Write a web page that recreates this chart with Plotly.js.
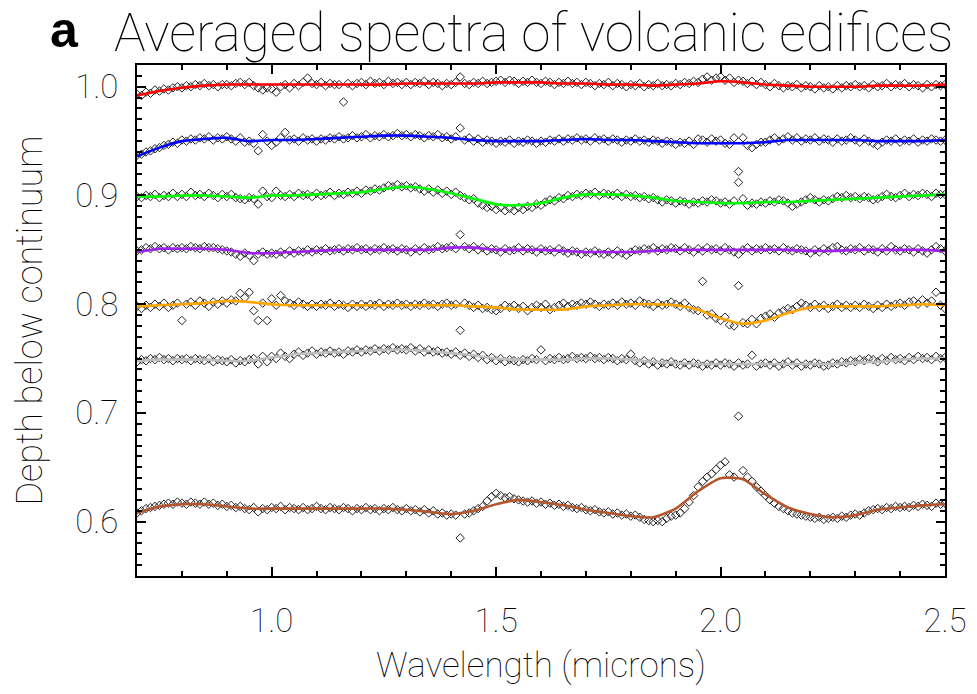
<!DOCTYPE html>
<html><head><meta charset="utf-8">
<script src="https://cdn.plot.ly/plotly-3.0.1.min.js"></script>
<style>html,body{margin:0;padding:0;background:#fff;}#chart{width:977px;height:694px;}</style>
</head><body><div id="chart"></div>
<script>
// Wavelength grid of the averaged spectra (microns)
const wavelength = [
0.70,0.71,0.72,0.73,0.74,0.75,0.76,0.77,0.78,0.79,
0.80,0.81,0.82,0.83,0.84,0.85,0.86,0.87,0.88,0.89,
0.90,0.91,0.92,0.93,0.94,0.95,0.96,0.97,0.98,0.99,
1.00,1.01,1.02,1.03,1.04,1.05,1.06,1.07,1.08,1.09,
1.10,1.11,1.12,1.13,1.14,1.15,1.16,1.17,1.18,1.19,
1.20,1.21,1.22,1.23,1.24,1.25,1.26,1.27,1.28,1.29,
1.30,1.31,1.32,1.33,1.34,1.35,1.36,1.37,1.38,1.39,
1.40,1.41,1.42,1.43,1.44,1.45,1.46,1.47,1.48,1.49,
1.50,1.51,1.52,1.53,1.54,1.55,1.56,1.57,1.58,1.59,
1.60,1.61,1.62,1.63,1.64,1.65,1.66,1.67,1.68,1.69,
1.70,1.71,1.72,1.73,1.74,1.75,1.76,1.77,1.78,1.79,
1.80,1.81,1.82,1.83,1.84,1.85,1.86,1.87,1.88,1.89,
1.90,1.91,1.92,1.93,1.94,1.95,1.96,1.97,1.98,1.99,
2.00,2.01,2.02,2.03,2.04,2.05,2.06,2.07,2.08,2.09,
2.10,2.11,2.12,2.13,2.14,2.15,2.16,2.17,2.18,2.19,
2.20,2.21,2.22,2.23,2.24,2.25,2.26,2.27,2.28,2.29,
2.30,2.31,2.32,2.33,2.34,2.35,2.36,2.37,2.38,2.39,
2.40,2.41,2.42,2.43,2.44,2.45,2.46,2.47,2.48,2.49,
2.50];

// Wavelengths of the smoothed fits
const fitWavelength = [0.70,0.75,0.80,0.85,0.90,0.95,1.00,1.05,1.10,1.15,1.20,1.25,1.30,1.35,1.40,1.45,1.50,1.55,1.60,1.65,1.70,1.75,1.80,1.85,1.90,1.95,2.00,2.05,2.10,2.15,2.20,2.25,2.30,2.35,2.40,2.45,2.50];

const redPoints = [
0.993,0.992,0.995,0.994,0.997,0.996,0.998,0.997,0.999,1.000,
0.999,1.001,1.000,1.002,1.001,1.003,1.001,1.002,1.000,1.002,
1.002,1.001,1.003,1.004,1.002,1.004,1.001,0.999,0.997,0.999,
0.998,0.995,1.000,1.002,0.999,1.003,1.001,1.004,1.008,1.003,
1.002,1.004,1.001,1.003,1.002,1.002,0.986,1.003,1.001,1.003,
1.004,1.002,1.005,1.003,1.004,1.002,1.005,1.003,1.004,1.002,
1.004,1.002,1.004,1.003,1.005,1.002,1.004,1.003,1.001,1.003,
1.002,1.004,1.009,1.003,1.002,1.004,1.003,1.005,1.003,1.004,
1.005,1.006,1.004,1.006,1.005,1.003,1.005,1.004,1.006,1.004,
1.003,1.005,1.004,1.002,1.004,1.003,1.005,1.003,1.004,1.002,
1.004,1.003,1.001,1.003,1.002,1.004,1.001,1.003,1.002,1.000,
1.002,1.001,1.003,1.000,1.002,1.001,1.003,1.001,1.002,1.001,
1.003,1.002,1.004,1.003,1.005,1.004,1.007,1.009,1.006,1.008,
1.009,1.006,1.008,1.004,1.006,1.005,1.003,1.005,1.002,1.004,
1.002,1.000,1.003,1.001,0.999,1.001,1.000,1.002,0.999,1.001,
1.000,0.998,1.001,0.999,1.000,0.998,1.001,0.999,1.001,1.000,
1.002,1.000,1.001,0.999,1.002,1.000,1.001,1.003,1.000,1.002,
1.001,1.003,1.000,1.002,1.001,0.999,1.002,1.000,1.002,1.001,
1.002];
const redFit = [0.992,0.996,0.999,1.001,1.002,1.002,1.002,1.002,1.002,1.002,1.002,1.002,1.003,1.003,1.003,1.003,1.004,1.004,1.004,1.003,1.003,1.002,1.002,1.001,1.002,1.003,1.005,1.004,1.002,1.001,1.000,1.000,1.000,1.001,1.001,1.001,1.002];

const bluePoints = [
0.937,0.938,0.940,0.941,0.943,0.944,0.946,0.947,0.949,0.948,
0.951,0.950,0.952,0.951,0.953,0.952,0.954,0.951,0.953,0.952,
0.954,0.952,0.950,0.953,0.949,0.950,0.948,0.941,0.956,0.950,
0.946,0.949,0.953,0.958,0.951,0.952,0.950,0.953,0.951,0.952,
0.950,0.952,0.951,0.953,0.952,0.954,0.952,0.953,0.955,0.953,
0.954,0.956,0.953,0.955,0.954,0.956,0.954,0.955,0.957,0.955,
0.956,0.954,0.956,0.955,0.953,0.955,0.954,0.956,0.953,0.954,
0.952,0.954,0.962,0.951,0.953,0.950,0.952,0.949,0.951,0.950,
0.948,0.950,0.949,0.951,0.948,0.950,0.949,0.951,0.950,0.948,
0.950,0.949,0.951,0.950,0.952,0.950,0.952,0.951,0.953,0.951,
0.952,0.950,0.953,0.951,0.952,0.950,0.952,0.951,0.949,0.951,
0.950,0.952,0.950,0.951,0.949,0.951,0.950,0.948,0.950,0.949,
0.947,0.949,0.948,0.950,0.947,0.952,0.951,0.949,0.952,0.950,
0.951,0.948,0.947,0.953,0.922,0.953,0.946,0.944,0.947,0.949,
0.949,0.951,0.953,0.950,0.952,0.954,0.951,0.953,0.950,0.952,
0.951,0.953,0.950,0.952,0.951,0.949,0.952,0.950,0.951,0.953,
0.951,0.949,0.952,0.950,0.948,0.946,0.949,0.951,0.950,0.952,
0.949,0.951,0.950,0.952,0.949,0.951,0.950,0.952,0.951,0.950,
0.951];
const blueFit = [0.936,0.944,0.950,0.952,0.953,0.950,0.951,0.951,0.952,0.953,0.954,0.955,0.955,0.954,0.953,0.951,0.950,0.950,0.950,0.951,0.952,0.951,0.951,0.950,0.949,0.948,0.948,0.948,0.949,0.951,0.951,0.951,0.951,0.950,0.950,0.950,0.951];

const greenPoints = [
0.899,0.898,0.900,0.899,0.901,0.898,0.900,0.899,0.902,0.899,
0.901,0.899,0.903,0.900,0.901,0.899,0.902,0.900,0.898,0.901,
0.899,0.901,0.898,0.897,0.896,0.898,0.897,0.892,0.904,0.899,
0.898,0.904,0.900,0.899,0.901,0.899,0.902,0.900,0.901,0.899,
0.902,0.900,0.901,0.903,0.900,0.902,0.901,0.903,0.902,0.904,
0.902,0.905,0.904,0.906,0.905,0.907,0.909,0.908,0.910,0.908,
0.909,0.907,0.908,0.906,0.904,0.906,0.903,0.905,0.902,0.904,
0.901,0.903,0.900,0.898,0.896,0.897,0.893,0.891,0.889,0.890,
0.887,0.889,0.886,0.888,0.886,0.889,0.887,0.890,0.889,0.892,
0.891,0.894,0.896,0.895,0.898,0.897,0.900,0.899,0.901,0.900,
0.902,0.901,0.903,0.900,0.902,0.901,0.900,0.902,0.899,0.901,
0.899,0.900,0.898,0.899,0.897,0.898,0.896,0.894,0.896,0.895,
0.893,0.895,0.894,0.892,0.894,0.893,0.895,0.894,0.896,0.895,
0.893,0.894,0.892,0.895,0.912,0.897,0.891,0.893,0.892,0.894,
0.893,0.895,0.894,0.896,0.895,0.893,0.890,0.892,0.894,0.896,
0.898,0.896,0.894,0.896,0.895,0.897,0.899,0.898,0.900,0.898,
0.899,0.897,0.899,0.898,0.896,0.897,0.899,0.901,0.899,0.898,
0.900,0.902,0.899,0.901,0.900,0.902,0.901,0.899,0.902,0.901,
0.901];
const greenFit = [0.899,0.899,0.900,0.900,0.899,0.898,0.900,0.900,0.901,0.902,0.903,0.906,0.908,0.906,0.902,0.897,0.892,0.891,0.893,0.898,0.901,0.901,0.900,0.898,0.895,0.894,0.893,0.893,0.894,0.894,0.895,0.896,0.897,0.898,0.899,0.900,0.901];

const purplePoints = [
0.849,0.850,0.852,0.851,0.853,0.851,0.852,0.850,0.852,0.851,
0.852,0.851,0.853,0.852,0.851,0.853,0.852,0.852,0.851,0.850,
0.849,0.848,0.846,0.844,0.847,0.845,0.840,0.846,0.848,0.846,
0.847,0.846,0.848,0.846,0.849,0.847,0.849,0.848,0.850,0.848,
0.850,0.849,0.851,0.849,0.850,0.851,0.849,0.851,0.850,0.852,
0.850,0.851,0.849,0.851,0.850,0.852,0.850,0.851,0.849,0.851,
0.850,0.848,0.851,0.849,0.852,0.850,0.851,0.853,0.851,0.852,
0.853,0.851,0.864,0.853,0.851,0.853,0.850,0.852,0.849,0.851,
0.850,0.848,0.851,0.849,0.850,0.852,0.849,0.851,0.850,0.848,
0.851,0.849,0.850,0.848,0.851,0.849,0.847,0.849,0.848,0.846,
0.848,0.847,0.849,0.847,0.846,0.848,0.846,0.849,0.847,0.845,
0.848,0.850,0.849,0.851,0.850,0.852,0.849,0.851,0.850,0.852,
0.851,0.849,0.852,0.850,0.848,0.851,0.849,0.852,0.850,0.851,
0.849,0.852,0.850,0.848,0.846,0.850,0.852,0.849,0.851,0.850,
0.852,0.850,0.851,0.849,0.852,0.850,0.849,0.851,0.850,0.849,
0.847,0.850,0.848,0.851,0.849,0.852,0.853,0.850,0.849,0.851,
0.850,0.852,0.849,0.851,0.850,0.848,0.851,0.849,0.853,0.850,
0.849,0.851,0.850,0.848,0.851,0.849,0.847,0.850,0.853,0.851,
0.849];
const purpleFit = [0.848,0.851,0.851,0.851,0.850,0.847,0.847,0.848,0.849,0.850,0.850,0.850,0.850,0.850,0.852,0.852,0.850,0.850,0.850,0.849,0.848,0.848,0.848,0.849,0.850,0.850,0.850,0.850,0.850,0.850,0.849,0.849,0.850,0.850,0.850,0.850,0.849];

const orangePoints = [
0.798,0.796,0.799,0.797,0.800,0.798,0.801,0.797,0.799,0.801,
0.785,0.800,0.802,0.799,0.803,0.801,0.798,0.802,0.800,0.803,
0.801,0.804,0.803,0.810,0.806,0.811,0.794,0.785,0.801,0.785,
0.805,0.799,0.808,0.803,0.801,0.799,0.802,0.800,0.798,0.800,
0.798,0.800,0.799,0.801,0.798,0.800,0.799,0.797,0.800,0.798,
0.800,0.798,0.800,0.799,0.801,0.798,0.800,0.799,0.801,0.799,
0.800,0.798,0.800,0.799,0.801,0.799,0.800,0.798,0.800,0.801,
0.799,0.800,0.776,0.801,0.799,0.797,0.799,0.796,0.797,0.795,
0.794,0.796,0.799,0.797,0.799,0.796,0.798,0.794,0.797,0.799,
0.797,0.800,0.795,0.797,0.799,0.801,0.798,0.800,0.799,0.801,
0.800,0.802,0.800,0.798,0.800,0.799,0.801,0.799,0.802,0.800,
0.801,0.799,0.803,0.801,0.800,0.798,0.801,0.799,0.800,0.802,
0.800,0.798,0.801,0.797,0.795,0.794,0.821,0.790,0.791,0.787,
0.785,0.788,0.781,0.780,0.817,0.783,0.782,0.786,0.782,0.787,
0.789,0.791,0.788,0.792,0.794,0.796,0.795,0.798,0.801,0.799,
0.797,0.800,0.797,0.799,0.796,0.798,0.800,0.797,0.799,0.797,
0.799,0.797,0.800,0.798,0.796,0.799,0.797,0.800,0.798,0.800,
0.801,0.799,0.802,0.803,0.800,0.804,0.801,0.803,0.811,0.799,
0.796];
const orangeFit = [0.798,0.799,0.800,0.801,0.803,0.802,0.800,0.799,0.799,0.799,0.799,0.799,0.799,0.799,0.799,0.798,0.797,0.795,0.795,0.795,0.798,0.799,0.800,0.800,0.799,0.795,0.787,0.782,0.785,0.792,0.797,0.798,0.798,0.798,0.799,0.800,0.799];

const grayPoints = [
0.747,0.749,0.748,0.750,0.749,0.751,0.749,0.750,0.748,0.750,
0.749,0.750,0.748,0.750,0.749,0.748,0.750,0.747,0.749,0.748,
0.747,0.749,0.746,0.748,0.747,0.749,0.750,0.745,0.752,0.747,
0.752,0.750,0.755,0.752,0.750,0.754,0.756,0.753,0.755,0.757,
0.754,0.756,0.755,0.757,0.755,0.756,0.754,0.757,0.756,0.758,
0.756,0.758,0.757,0.759,0.757,0.759,0.758,0.760,0.758,0.759,
0.758,0.760,0.757,0.759,0.756,0.758,0.756,0.757,0.755,0.756,
0.754,0.756,0.753,0.755,0.752,0.754,0.751,0.753,0.749,0.751,
0.748,0.750,0.747,0.749,0.748,0.747,0.749,0.748,0.750,0.749,
0.758,0.748,0.750,0.749,0.751,0.749,0.750,0.752,0.750,0.751,
0.750,0.752,0.750,0.751,0.749,0.751,0.750,0.748,0.750,0.749,
0.754,0.748,0.746,0.748,0.745,0.747,0.744,0.746,0.745,0.747,
0.745,0.744,0.746,0.744,0.746,0.745,0.743,0.745,0.744,0.746,
0.744,0.746,0.745,0.743,0.746,0.744,0.745,0.753,0.743,0.745,
0.746,0.744,0.746,0.743,0.745,0.747,0.744,0.746,0.743,0.745,
0.744,0.746,0.745,0.743,0.744,0.746,0.745,0.747,0.746,0.748,
0.747,0.749,0.748,0.750,0.749,0.747,0.750,0.748,0.751,0.749,
0.750,0.748,0.751,0.749,0.752,0.750,0.751,0.749,0.752,0.750,
0.751];
const grayFit = [0.748,0.749,0.749,0.749,0.748,0.748,0.751,0.754,0.755,0.756,0.757,0.758,0.758,0.757,0.755,0.753,0.750,0.749,0.749,0.749,0.750,0.750,0.749,0.747,0.746,0.745,0.745,0.745,0.745,0.745,0.745,0.745,0.746,0.747,0.749,0.750,0.750];

const brownPoints = [
0.608,0.610,0.612,0.613,0.614,0.615,0.616,0.617,0.616,0.618,
0.617,0.616,0.618,0.617,0.616,0.618,0.616,0.617,0.615,0.616,
0.614,0.615,0.613,0.614,0.612,0.611,0.613,0.609,0.612,0.611,
0.613,0.612,0.614,0.611,0.613,0.612,0.611,0.613,0.611,0.612,
0.614,0.612,0.611,0.613,0.612,0.611,0.613,0.612,0.610,0.612,
0.611,0.613,0.611,0.612,0.610,0.612,0.611,0.613,0.611,0.610,
0.612,0.610,0.611,0.609,0.611,0.608,0.610,0.607,0.608,0.606,
0.607,0.606,0.585,0.607,0.608,0.610,0.612,0.614,0.619,0.623,
0.626,0.624,0.622,0.623,0.621,0.620,0.619,0.618,0.619,0.617,
0.618,0.616,0.617,0.615,0.616,0.614,0.615,0.613,0.612,0.613,
0.611,0.610,0.611,0.609,0.608,0.609,0.607,0.608,0.606,0.607,
0.605,0.606,0.604,0.602,0.601,0.600,0.601,0.600,0.603,0.605,
0.606,0.608,0.612,0.618,0.624,0.632,0.637,0.641,0.644,0.648,
0.652,0.655,0.643,0.641,0.697,0.647,0.641,0.637,0.632,0.628,
0.624,0.620,0.617,0.614,0.612,0.610,0.608,0.607,0.606,0.605,
0.604,0.603,0.604,0.602,0.603,0.604,0.603,0.605,0.604,0.606,
0.607,0.606,0.608,0.610,0.611,0.612,0.611,0.613,0.612,0.614,
0.613,0.614,0.613,0.615,0.614,0.616,0.615,0.614,0.617,0.616,
0.617];
const brownFit = [0.608,0.614,0.616,0.616,0.614,0.612,0.612,0.612,0.612,0.612,0.612,0.612,0.611,0.609,0.607,0.610,0.616,0.620,0.618,0.615,0.611,0.608,0.605,0.604,0.612,0.628,0.640,0.639,0.625,0.613,0.607,0.604,0.606,0.611,0.613,0.615,0.616];

const seriesPoints = [redPoints, bluePoints, greenPoints, purplePoints, orangePoints, grayPoints, brownPoints];
const seriesFits = [redFit, blueFit, greenFit, purpleFit, orangeFit, grayFit, brownFit];

const titleText = 'Averaged spectra of volcanic edifices';
const panelLabel = 'a';
const xTitle = 'Wavelength (microns)';
const yTitle = 'Depth below continuum';

// styles
const fitColors = ['#ff0000', '#0000ff', '#00ff00', '#a020f0', '#ffa500', '#bebebe', '#b5562f'];
const FONT = 'Roboto, "DejaVu Sans", sans-serif';

const traces = [];
seriesPoints.forEach(function (pts) {
  traces.push({
    type: 'scatter', mode: 'markers', x: wavelength, y: pts,
    marker: {symbol: 'diamond-open', size: 6.5, color: '#222', line: {width: 1, color: '#222'}},
    hoverinfo: 'skip', showlegend: false, cliponaxis: true
  });
});
seriesFits.forEach(function (fit, i) {
  traces.push({
    type: 'scatter', mode: 'lines', x: fitWavelength, y: fit,
    line: {color: fitColors[i], width: 2.6, shape: 'spline', smoothing: 0.6},
    hoverinfo: 'skip', showlegend: false
  });
});

const axisCommon = {
  showline: true, linecolor: '#000', linewidth: 2, mirror: 'ticks',
  ticks: 'inside', ticklen: 9, tickwidth: 2, tickcolor: '#000',
  showgrid: false, zeroline: false,
  tickfont: {family: FONT, size: 33, color: '#000', weight: 100}
};

const layout = {
  width: 977, height: 694,
  paper_bgcolor: '#fff', plot_bgcolor: '#fff',
  margin: {l: 137, r: 32, t: 65, b: 118},
  showlegend: false,
  title: {
    text: titleText, xref: 'container', yref: 'container',
    x: 114/977, xanchor: 'left', y: 1 - 32/694, yanchor: 'middle',
    font: {family: FONT, size: 53, color: '#000', weight: 100}
  },
  xaxis: Object.assign({}, axisCommon, {
    range: [0.7, 2.5], tick0: 1.0, dtick: 0.5, tickformat: '.1f',
    ticklabelstandoff: 14,
    minor: {ticks: 'inside', ticklen: 5, tickwidth: 2, tickcolor: '#000', dtick: 0.1, tick0: 0.7, showgrid: false},
    title: {text: xTitle, standoff: 14, font: {family: FONT, size: 35, color: '#000', weight: 100}}
  }),
  yaxis: Object.assign({}, axisCommon, {
    range: [0.55, 1.02], tick0: 0.6, dtick: 0.1, tickformat: '.1f',
    ticklabelstandoff: 10,
    minor: {ticks: 'inside', ticklen: 5, tickwidth: 2, tickcolor: '#000', dtick: 0.01, tick0: 0.55, showgrid: false},
    title: {text: yTitle, standoff: 22, font: {family: FONT, size: 36, color: '#000', weight: 100}}
  }),
  annotations: [{
    text: '<b>' + panelLabel + '</b>', xref: 'paper', yref: 'paper',
    x: (49 - 137)/808, xanchor: 'left', y: (576 - 1)/511, yanchor: 'top', borderpad: 0,
    showarrow: false, font: {family: 'Liberation Sans, Arial, sans-serif', size: 50, color: '#000'}
  }]
};

Plotly.newPlot('chart', traces, layout, {staticPlot: true, displayModeBar: false});
</script>
</body></html>
